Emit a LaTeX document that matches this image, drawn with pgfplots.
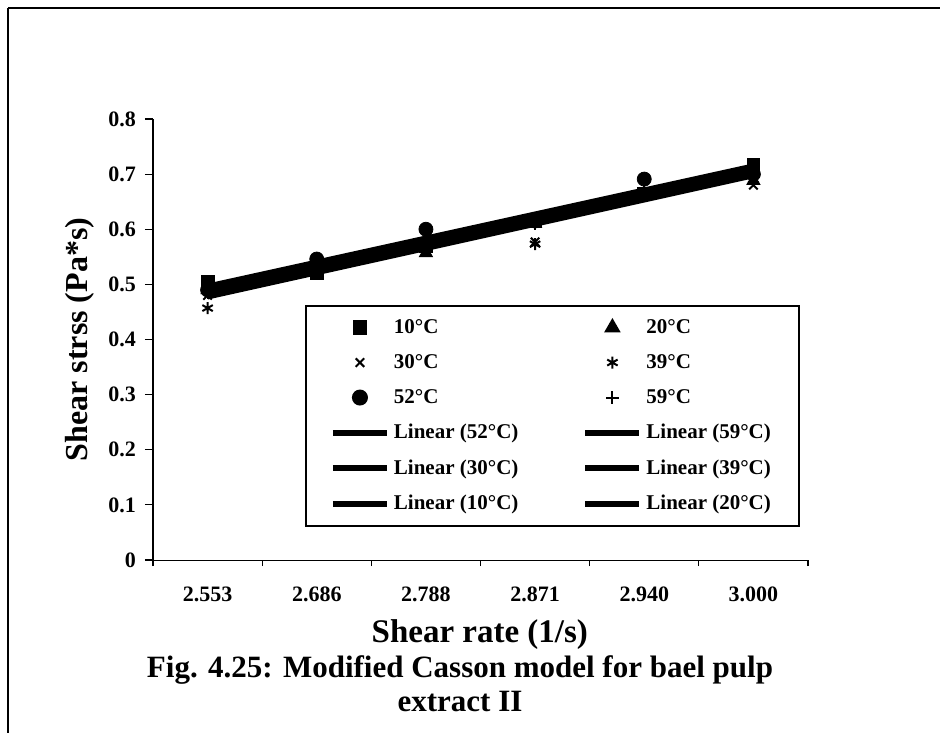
\documentclass[border=0pt]{standalone}
\usepackage{fontspec}
\setmainfont{Liberation Serif}
\usepackage{pgfplots}
\pgfplotsset{compat=1.18}
\begin{document}
\begin{tikzpicture}
\useasboundingbox (0,0) rectangle (470pt,-366.5pt);
\draw[line width=0.8pt] (4pt,-4pt) -- (4pt,-366.5pt);
\draw[line width=0.8pt] (4pt,-4pt) -- (470pt,-4pt);
\begin{axis}[
  at={(76.5pt,-280pt)}, anchor=south west,
  scale only axis, width=327.5pt, height=220.5pt,
  xmin=-0.5, xmax=5.5, ymin=0, ymax=0.8,
  axis x line=bottom, axis y line=left,
  axis line style={-},
  x axis line style={line width=0.5pt},
  y axis line style={line width=1pt},
  tick align=outside,
  major tick length=4pt, minor tick length=3pt,
  tick style={black, line width=0.6pt},
  xtick={0,1,2,3,4,5},
  xticklabels={2.553,2.686,2.788,2.871,2.940,3.000},
  major x tick style={draw=none},
  minor xtick={-0.5,0.5,1.5,2.5,3.5,4.5,5.5},
  ytick={0,0.1,0.2,0.3,0.4,0.5,0.6,0.7,0.8},
  yticklabels={0,0.1,0.2,0.3,0.4,0.5,0.6,0.7,0.8},
  ticklabel style={font=\bfseries\fontsize{11}{12}\selectfont},
  xticklabel style={yshift=-6pt},
  yticklabel style={xshift=-1pt},
  xlabel={Shear rate (1/s)},
  xlabel style={at={(axis description cs:0.499,-0.170)}, anchor=center, font=\bfseries\fontsize{16.5}{18}\selectfont},
  ylabel={Shear strss (Pa*s)},
  ylabel style={at={(axis description cs:-0.1115,0.5)}, anchor=center, font=\bfseries\fontsize{16}{18}\selectfont},
  legend columns=2,
  legend cell align=left,
  legend image code/.code={\draw[mark repeat=2,mark phase=2,#1] plot coordinates {(0pt,0pt) (13.5pt,0pt) (27pt,0pt)};},
  legend style={at={(axis description cs:0.232,0.578)}, anchor=north west,
    draw=black, line width=1pt, inner xsep=12pt, inner ysep=4.5pt,
    font=\bfseries\fontsize{10.5}{12}\selectfont,
    row sep=5pt,
    /tikz/every even column/.append style={column sep=30pt}},
]
% legend images
\addlegendimage{only marks, mark=square*, mark size=3.2pt, black}
\addlegendentry{10°C}
\addlegendimage{only marks, mark=triangle*, mark size=3.8pt, black}
\addlegendentry{20°C}
\addlegendimage{only marks, mark=x, mark size=3pt, black, mark options={line width=1pt}}
\addlegendentry{30°C}
\addlegendimage{only marks, mark=asterisk, mark size=3pt, black, mark options={line width=1pt}}
\addlegendentry{39°C}
\addlegendimage{only marks, mark=*, mark size=3.5pt, black}
\addlegendentry{52°C}
\addlegendimage{only marks, mark=+, mark size=3.2pt, black, mark options={line width=1pt}}
\addlegendentry{59°C}
\addlegendimage{no marks, black, line width=3pt}
\addlegendentry{Linear (52°C)}
\addlegendimage{no marks, black, line width=3pt}
\addlegendentry{Linear (59°C)}
\addlegendimage{no marks, black, line width=3pt}
\addlegendentry{Linear (30°C)}
\addlegendimage{no marks, black, line width=3pt}
\addlegendentry{Linear (39°C)}
\addlegendimage{no marks, black, line width=3pt}
\addlegendentry{Linear (10°C)}
\addlegendimage{no marks, black, line width=3pt}
\addlegendentry{Linear (20°C)}
% data points
\addplot[forget plot, only marks, mark=square*, mark size=3.2pt, black] coordinates {(0,0.505) (1,0.520) (2,0.570) (3,0.615) (4,0.665) (5,0.717)};
\addplot[forget plot, only marks, mark=triangle*, mark size=3.8pt, black] coordinates {(0,0.490) (1,0.525) (2,0.557) (3,0.610) (4,0.665) (5,0.688)};
\addplot[forget plot, only marks, mark=x, mark size=3pt, black, mark options={line width=1pt}] coordinates {(0,0.480) (1,0.530) (2,0.565) (3,0.577) (4,0.665) (5,0.680)};
\addplot[forget plot, only marks, mark=asterisk, mark size=3pt, black, mark options={line width=1pt}] coordinates {(0,0.457) (1,0.525) (2,0.570) (3,0.573) (4,0.665) (5,0.690)};
\addplot[forget plot, only marks, mark=*, mark size=3.5pt, black] coordinates {(0,0.490) (1,0.546) (2,0.600) (3,0.615) (4,0.691) (5,0.700)};
\addplot[forget plot, only marks, mark=+, mark size=3.2pt, black, mark options={line width=1pt}] coordinates {(0,0.485) (1,0.530) (2,0.575) (3,0.610) (4,0.670) (5,0.700)};
% trend lines
\addplot[forget plot, black, line width=3pt] coordinates {(0,0.496) (5,0.714)};
\addplot[forget plot, black, line width=3pt] coordinates {(0,0.490) (5,0.706)};
\addplot[forget plot, black, line width=3pt] coordinates {(0,0.484) (5,0.700)};
\addplot[forget plot, black, line width=3pt] coordinates {(0,0.478) (5,0.698)};
\addplot[forget plot, black, line width=3pt] coordinates {(0,0.492) (5,0.712)};
\addplot[forget plot, black, line width=3pt] coordinates {(0,0.486) (5,0.704)};
\end{axis}
\node[font=\bfseries\fontsize{15.5}{18}\selectfont] at (230pt,-335pt) {Fig. 4.25: Modified Casson model for bael pulp};
\node[font=\bfseries\fontsize{15.5}{18}\selectfont] at (230pt,-350.5pt) {extract II};
\end{tikzpicture}
\end{document}
